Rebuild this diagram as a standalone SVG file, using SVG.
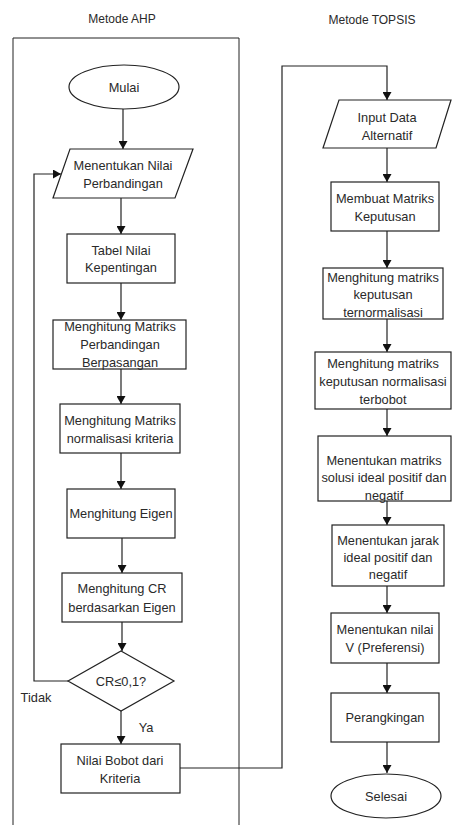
<svg xmlns="http://www.w3.org/2000/svg" width="452" height="825" viewBox="0 0 452 825">
<style>
.s{fill:#fff;stroke:#222;stroke-width:1.2}
.t{font-family:"Liberation Sans",Arial,sans-serif;font-size:12.8px;fill:#2a2a2a;text-anchor:middle;dominant-baseline:central}
.h{font-family:"Liberation Sans",Arial,sans-serif;font-size:12px;fill:#2a2a2a;text-anchor:middle;dominant-baseline:central}
.c{fill:none;stroke:#222;stroke-width:1.2}
.f{fill:none;stroke:#222;stroke-width:1}
</style>
<defs>
<marker id="a" markerWidth="8" markerHeight="9" refX="8" refY="4.5" orient="auto" markerUnits="userSpaceOnUse">
<path d="M0,0 L8,4.5 L0,9 z" fill="#111"/>
</marker>
</defs>
<rect width="452" height="825" fill="#fff"/>
<g id="frame">
<text class="h" x="122" y="19">Metode AHP</text>
<text class="h" x="372" y="20">Metode TOPSIS</text>
<path class="f" d="M13,825 V38 H239 V825"/>
</g>
<g id="connectors">
<path class="c" d="M123,109 V149" marker-end="url(#a)"/>
<path class="c" d="M121,198 V234" marker-end="url(#a)"/>
<path class="c" d="M121,283 V320" marker-end="url(#a)"/>
<path class="c" d="M121,369 V404" marker-end="url(#a)"/>
<path class="c" d="M121,453 V489" marker-end="url(#a)"/>
<path class="c" d="M122,538 V573" marker-end="url(#a)"/>
<path class="c" d="M122,622 V651" marker-end="url(#a)"/>
<path class="c" d="M68,681 H34 V174 H61" marker-end="url(#a)"/>
<path class="c" d="M121,711 V744" marker-end="url(#a)"/>
<path class="c" d="M180,768 H282 V66 H387 V100" marker-end="url(#a)"/>
<path class="c" d="M387,148 V182" marker-end="url(#a)"/>
<path class="c" d="M387,231 V268" marker-end="url(#a)"/>
<path class="c" d="M387,319 V352" marker-end="url(#a)"/>
<path class="c" d="M387,409 V436" marker-end="url(#a)"/>
<path class="c" d="M387,501 V525" marker-end="url(#a)"/>
<path class="c" d="M387,586 V613" marker-end="url(#a)"/>
<path class="c" d="M387,663 V693" marker-end="url(#a)"/>
<path class="c" d="M387,742 V773" marker-end="url(#a)"/>
<text class="t" x="36" y="697">Tidak</text>
<text class="t" x="146" y="727">Ya</text>
</g>
<g id="mulai">
<ellipse class="s" cx="124" cy="87" rx="55" ry="22"/>
<text class="t" x="124" y="87">Mulai</text>
</g>
<g id="nilai-perbandingan">
<polygon class="s" points="70,149 193,149 175,198 53,198"/>
<text class="t" x="123" y="165">Menentukan Nilai</text>
<text class="t" x="123" y="183">Perbandingan</text>
</g>
<g id="tabel-nilai">
<rect class="s" x="67" y="234" width="108" height="49"/>
<text class="t" x="121" y="250">Tabel Nilai</text>
<text class="t" x="121" y="267">Kepentingan</text>
</g>
<g id="matriks-perbandingan">
<rect class="s" x="53" y="320" width="133" height="49"/>
<text class="t" x="120" y="326">Menghitung Matriks</text>
<text class="t" x="120" y="344">Perbandingan</text>
<text class="t" x="120" y="362">Berpasangan</text>
</g>
<g id="matriks-normalisasi">
<rect class="s" x="60" y="404" width="120" height="49"/>
<text class="t" x="120" y="420">Menghitung Matriks</text>
<text class="t" x="120" y="438">normalisasi kriteria</text>
</g>
<g id="eigen">
<rect class="s" x="67" y="489" width="108" height="49"/>
<text class="t" x="121" y="513">Menghitung Eigen</text>
</g>
<g id="cr">
<rect class="s" x="62" y="573" width="120" height="49"/>
<text class="t" x="122" y="588">Menghitung CR</text>
<text class="t" x="122" y="607">berdasarkan Eigen</text>
</g>
<g id="cek-cr">
<polygon class="s" points="121,651 174,681 121,711 68,681"/>
<text class="t" x="121" y="681">CR≤0,1?</text>
</g>
<g id="bobot">
<rect class="s" x="61" y="744" width="119" height="49"/>
<text class="t" x="120" y="760">Nilai Bobot dari</text>
<text class="t" x="120" y="778">Kriteria</text>
</g>
<g id="input-alternatif">
<polygon class="s" points="339,100 451,100 436,148 323,148"/>
<text class="t" x="387" y="117">Input Data</text>
<text class="t" x="387" y="135">Alternatif</text>
</g>
<g id="matriks-keputusan">
<rect class="s" x="331" y="182" width="108" height="49"/>
<text class="t" x="385" y="198">Membuat Matriks</text>
<text class="t" x="385" y="216">Keputusan</text>
</g>
<g id="ternormalisasi">
<rect class="s" x="323" y="268" width="120" height="51"/>
<text class="t" x="383" y="277">Menghitung matriks</text>
<text class="t" x="383" y="294">keputusan</text>
<text class="t" x="383" y="312">ternormalisasi</text>
</g>
<g id="terbobot">
<rect class="s" x="315" y="352" width="136" height="57"/>
<text class="t" x="383" y="363">Menghitung matriks</text>
<text class="t" x="383" y="381">keputusan normalisasi</text>
<text class="t" x="383" y="399">terbobot</text>
</g>
<g id="solusi-ideal">
<rect class="s" x="318" y="436" width="133" height="65"/>
<text class="t" x="384" y="460">Menentukan matriks</text>
<text class="t" x="384" y="477">solusi ideal positif dan</text>
<text class="t" x="384" y="495">negatif</text>
</g>
<g id="jarak-ideal">
<rect class="s" x="332" y="525" width="112" height="61"/>
<text class="t" x="388" y="540">Menentukan jarak</text>
<text class="t" x="388" y="557">ideal positif dan</text>
<text class="t" x="388" y="574">negatif</text>
</g>
<g id="preferensi">
<rect class="s" x="331" y="613" width="108" height="50"/>
<text class="t" x="385" y="629">Menentukan nilai</text>
<text class="t" x="385" y="647">V (Preferensi)</text>
</g>
<g id="perangkingan">
<rect class="s" x="331" y="693" width="108" height="49"/>
<text class="t" x="385" y="717">Perangkingan</text>
</g>
<g id="selesai">
<ellipse class="s" cx="386" cy="796" rx="55" ry="22"/>
<text class="t" x="386" y="796">Selesai</text>
</g>
</svg>
